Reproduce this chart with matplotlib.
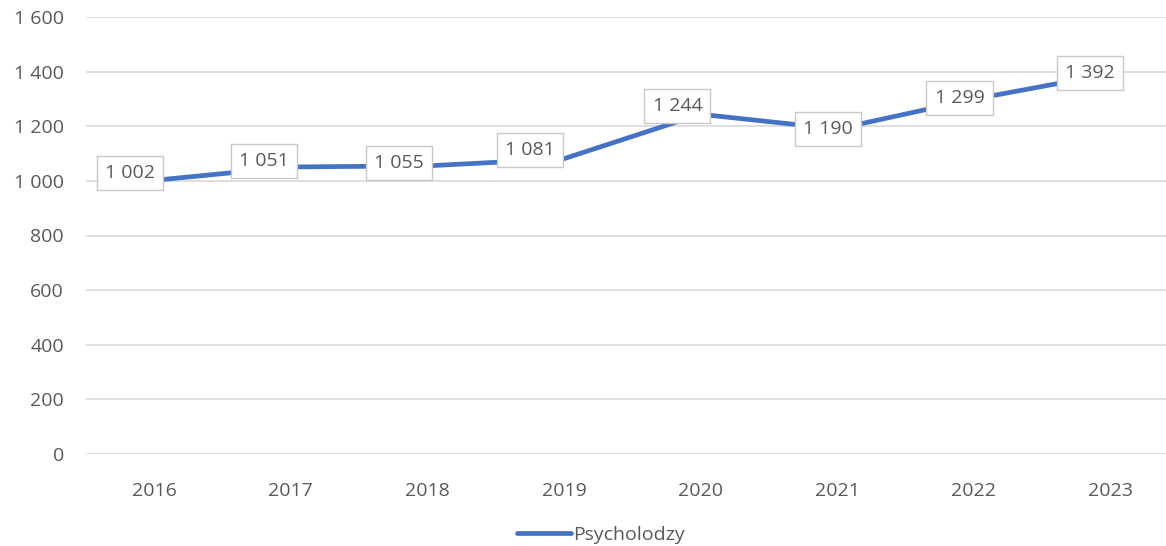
import matplotlib.pyplot as plt
from matplotlib.ticker import FuncFormatter

years = ["2016", "2017", "2018", "2019", "2020", "2021", "2022", "2023"]
values = [1002, 1051, 1055, 1081, 1244, 1190, 1299, 1392]
series_name = "Psycholodzy"

# label box shifts in pixels (as placed in the original chart)
label_dx = [-24, -27, -28, -34, -23, -9, -14, -20]
label_dy = [7, 6, 3, 9, 8, 0, 1, 1]

plt.rcParams["font.family"] = ["Open Sans", "DejaVu Sans"]
text_col = "#595959"
line_col = "#4472C4"


def pl_fmt(v, pos=None):
    return f"{int(v):,}".replace(",", " ")


fig = plt.figure(figsize=(11.66, 5.46), dpi=100)
ax = fig.add_axes([86 / 1166, 1 - 454 / 546, 1 - 86 / 1166, (454 - 17) / 546])

x = list(range(len(years)))
ax.plot(x, values, color=line_col, linewidth=3.4, solid_capstyle="round",
        label=series_name, zorder=3)

for xi, v, dx, dy in zip(x, values, label_dx, label_dy):
    ax.annotate(pl_fmt(v), (xi, v), xytext=(dx * 0.72, dy * 0.72),
                textcoords="offset points", ha="center", va="center",
                fontsize=14, color=text_col, zorder=4,
                bbox=dict(boxstyle="square,pad=0.42", fc="white", ec="#c8c8c8", lw=1))

ax.set_ylim(0, 1600)
ax.set_xlim(-0.5, 7.41)
ax.set_yticks(range(0, 1601, 200))
ax.yaxis.set_major_formatter(FuncFormatter(pl_fmt))
ax.set_xticks(x)
ax.set_xticklabels(years)
ax.tick_params(axis="both", length=0, labelsize=14, labelcolor=text_col)
ax.tick_params(axis="x", pad=20)
ax.tick_params(axis="y", pad=16)
ax.grid(axis="y", color="#d9d9d9", linewidth=1.2)
ax.set_axisbelow(True)
for s in ax.spines.values():
    s.set_visible(False)

leg = fig.legend(loc="center", bbox_to_anchor=(601 / 1166, 1 - 535 / 546),
                 frameon=False, fontsize=14, handlelength=2.8, handletextpad=0.1)
for t in leg.get_texts():
    t.set_color(text_col)

fig.savefig("out.png", dpi=100)
